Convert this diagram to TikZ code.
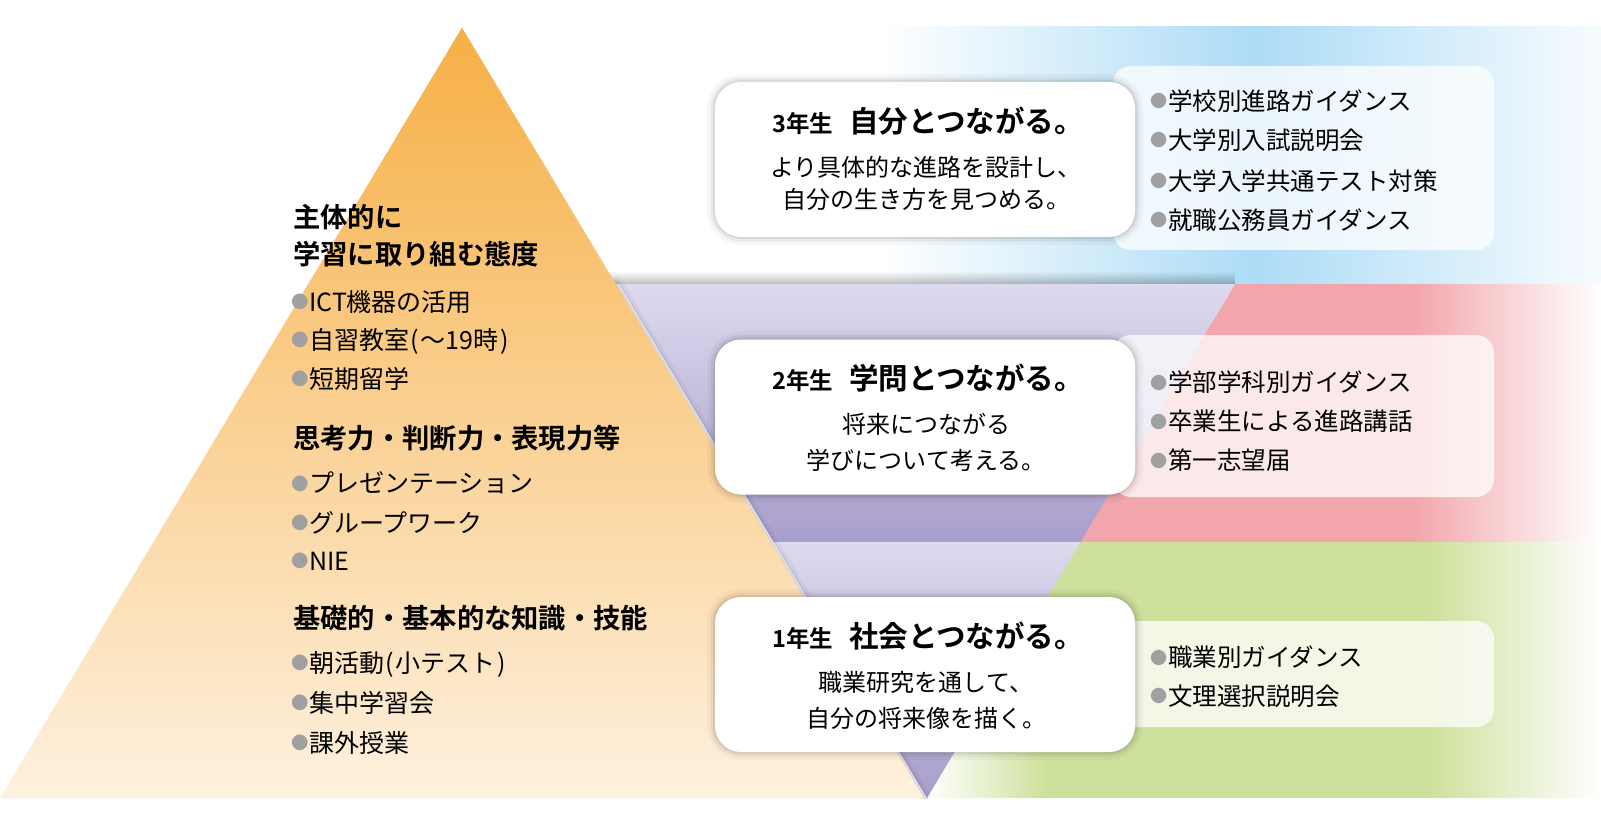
\documentclass[tikz,border=0pt]{standalone}
\usepackage{fontspec}
\setmainfont{Noto Sans CJK JP}[BoldFont={Noto Sans CJK JP Bold}]
\usepackage{graphicx}
\usetikzlibrary{fadings}
\definecolor{orgtop}{HTML}{F6AF45}
\definecolor{orgbot}{HTML}{FEF1DF}
\definecolor{purlight}{HTML}{DDDAEF}
\definecolor{purdark}{HTML}{A89ECB}
\definecolor{bandblue}{HTML}{ADDCF6}
\definecolor{bandpink}{HTML}{F2A5AB}
\definecolor{bandgreen}{HTML}{CEE19C}
\definecolor{bulgray}{HTML}{A0A0A0}
\newcommand{\bul}{\makebox[16pt][l]{\kern-1.5pt\textcolor{bulgray}{\raisebox{0.11em}{\scalebox{0.7}{●}}}}}
\newcommand{\grade}[1]{{\fontsize{23.5}{26}\selectfont\bfseries #1}}
\newcommand{\catch}[1]{{\fontsize{29.5}{32}\selectfont\bfseries #1}}

\begin{document}
\begin{tikzpicture}[line cap=round,line join=round,x=1pt,y=-1pt,
	mainbox/.style={fill=white,rounded corners=26,minimum width=420,minimum height=155,inner sep=0,
		preaction={draw=black,line width=16pt,opacity=.03},
		preaction={draw=black,line width=9pt,opacity=.05},
		preaction={draw=black,line width=4pt,opacity=.07}},
	listbox/.style={fill=white,fill opacity=.75,rounded corners=18,minimum width=381,inner sep=0},
	edgeshadow/.style={preaction={draw=black,line width=14pt,opacity=.04},
		preaction={draw=black,line width=8pt,opacity=.06},
		preaction={draw=black,line width=3pt,opacity=.08}},
	head/.style={anchor=west,inner sep=0},
	body/.style={inner sep=0,font=\fontsize{24}{28}\selectfont},
	item/.style={anchor=west,inner sep=0,font=\fontsize{24.5}{29}\selectfont},
	leftitem/.style={anchor=west,inner sep=0,font=\fontsize{25}{30}\selectfont},
	lefthead/.style={anchor=west,inner sep=0,font=\fontsize{27.3}{32}\selectfont\bfseries}]
	\useasboundingbox (0,0) rectangle (1601,826);
	\coordinate (apex) at (462,27.6);
	\coordinate (orgleft) at (0,798);
	\coordinate (orgright) at (924,798);
	\coordinate (purleft) at (619,284);
	\coordinate (purright) at (1235,284);
	\coordinate (purtip) at (927,798);
	\coordinate (purmid) at (1080,542);

	\shade[left color=white,right color=bandblue] (880,27) rectangle (1256,284);
	\shade[left color=bandblue,right color=bandblue!10!white] (1256,27) rectangle (1601,284);
	\begin{scope}
		\clip (purright) -- (1601,284) -- (1601,542) -- (purmid) -- cycle;
		\fill[bandpink] (1070,284) rectangle (1410,542);
		\shade[left color=bandpink,right color=white] (1410,284) rectangle (1601,542);
	\end{scope}
	\begin{scope}
		\clip (purmid) -- (1601,542) -- (1601,798) -- (purtip) -- cycle;
		\shade[left color=white,right color=bandgreen] (927,542) rectangle (1045,798);
		\fill[bandgreen] (1045,542) rectangle (1430,798);
		\shade[left color=bandgreen,right color=white] (1430,542) rectangle (1601,798);
	\end{scope}

	\begin{scope}
		\clip (purleft) -- (purright) -- (purtip) -- cycle;
		\shade[top color=purlight,bottom color=purdark] (600,284) rectangle (1250,542);
		\shade[top color=purlight,bottom color=purdark] (600,542) rectangle (1250,798);
	\end{scope}
	\fill[black,opacity=.25,path fading=north] (600,271) rectangle (purright);

	\begin{scope}
		\clip (0,0) rectangle (1601,798);
		\path[edgeshadow] (615.8,284) -- (orgright);
	\end{scope}
	\shade[top color=orgtop,bottom color=orgbot] (apex) -- (orgright) -- (orgleft) -- cycle;

	\node[listbox,minimum height=184] (list3) at (1303.5,158) {};
	\node[listbox,minimum height=162] (list2) at (1303.5,416) {};
	\node[listbox,minimum height=106] (list1) at (1303.5,674) {};

	\node[mainbox] (box3) at (925,159.5) {};
	\node[mainbox] (box2) at (925,417) {};
	\node[mainbox] (box1) at (925,674.5) {};

	\node[head] (head3) at (772,121.5) {\grade{3年生}\hspace{16pt}\catch{自分とつながる。}};
	\node[body] (txt3a) at (926,167) {より具体的な進路を設計し、};
	\node[body] (txt3b) at (926,199) {自分の生き方を見つめる。};
	\node[head] (head2) at (772,378) {\grade{2年生}\hspace{16pt}\catch{学問とつながる。}};
	\node[body] (txt2a) at (926,424) {将来につながる};
	\node[body] (txt2b) at (926,460) {学びについて考える。};
	\node[head] (head1) at (772,636) {\grade{1年生}\hspace{16pt}\catch{社会とつながる。}};
	\node[body] (txt1a) at (926,682) {職業研究を通して、};
	\node[body] (txt1b) at (926,718) {自分の将来像を描く。};

	\node[item] (it3a) at (1152,101) {\bul 学校別進路ガイダンス};
	\node[item] (it3b) at (1152,140) {\bul 大学別入試説明会};
	\node[item] (it3c) at (1152,181) {\bul 大学入学共通テスト対策};
	\node[item] (it3d) at (1152,220) {\bul 就職公務員ガイダンス};
	\node[item] (it2a) at (1152,382.5) {\bul 学部学科別ガイダンス};
	\node[item] (it2b) at (1152,421.5) {\bul 卒業生による進路講話};
	\node[item] (it2c) at (1152,460.5) {\bul 第一志望届};
	\node[item] (it1a) at (1152,657.5) {\bul 職業別ガイダンス};
	\node[item] (it1b) at (1152,696) {\bul 文理選択説明会};

	\node[lefthead] (attA) at (293,217) {主体的に};
	\node[lefthead] (attB) at (293,254) {学習に取り組む態度};
	\node[leftitem] (attC) at (293,302) {\bul ICT機器の活用};
	\node[leftitem] (attD) at (293,341) {\bul 自習教室\kern1pt(\kern2pt〜19時\kern2pt)};
	\node[leftitem] (attE) at (293,379) {\bul 短期留学};
	\node[lefthead] (thkA) at (293,438.5) {思考力・判断力・表現力等};
	\node[leftitem] (thkB) at (293,483) {\bul プレゼンテーション};
	\node[leftitem] (thkC) at (293,523) {\bul グループワーク};
	\node[leftitem] (thkD) at (293,561) {\bul NIE};
	\node[lefthead] (basA) at (293,618.5) {基礎的・基本的な知識・技能};
	\node[leftitem] (basB) at (293,664) {\bul 朝活動\kern1pt(\kern2pt 小テスト\kern2pt)};
	\node[leftitem] (basC) at (293,703) {\bul 集中学習会};
	\node[leftitem] (basD) at (293,742.5) {\bul 課外授業};
\end{tikzpicture}
\end{document}
